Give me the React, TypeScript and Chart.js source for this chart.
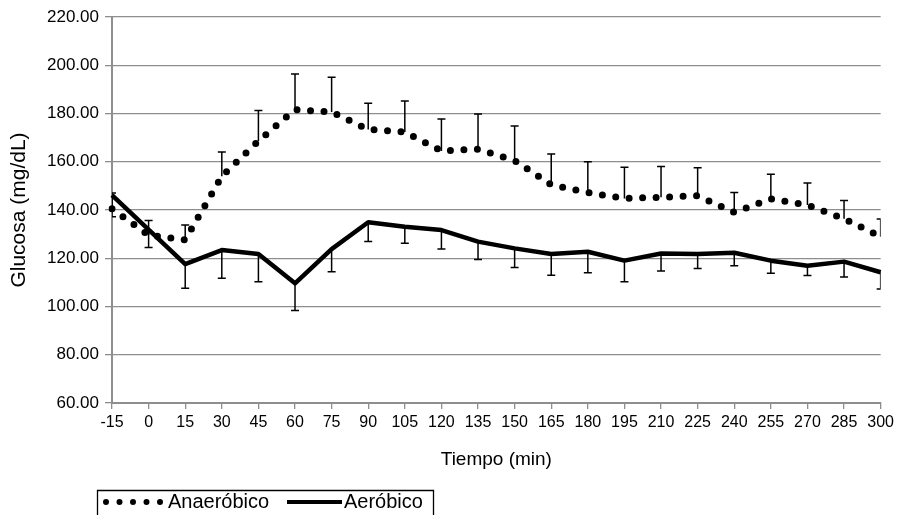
import { useEffect, useRef } from "react";
import { Chart, registerables } from "chart.js";

Chart.register(...registerables);

const timeLabels = ["-15", "0", "15", "30", "45", "60", "75", "90", "105", "120", "135", "150", "165", "180", "195", "210", "225", "240", "255", "270", "285", "300"];

const anaerobicValues = [140.5, 129.6, 127.6, 154.0, 168.6, 181.6, 180.6, 173.4, 172.3, 164.5, 165.2, 160.5, 150.5, 147.2, 144.8, 145.3, 145.9, 139.0, 144.6, 142.1, 136.4, 128.9];
const anaerobicErrors = [6.5, 6.0, 6.2, 10.0, 12.6, 14.8, 14.4, 10.8, 12.9, 13.2, 14.6, 14.3, 12.7, 12.8, 12.9, 12.7, 11.6, 8.3, 10.2, 9.1, 7.5, 7.4];

const aerobicValues = [146.2, 131.9, 117.6, 123.4, 121.8, 109.6, 123.8, 134.9, 133.1, 131.7, 126.9, 124.1, 121.8, 122.7, 119.0, 122.0, 121.8, 122.3, 119.0, 116.9, 118.6, 114.2];
const aerobicErrors = [9.0, 7.4, 10.0, 11.7, 11.5, 11.3, 9.4, 8.0, 6.9, 7.9, 7.4, 7.9, 8.8, 8.7, 8.7, 7.3, 6.0, 5.4, 5.2, 4.1, 6.4, 6.9];

const seriesNames = ["Anaeróbico", "Aeróbico"];
const yMin = 60;
const yMax = 220;
const yStep = 20;

const FONT = '"Liberation Sans", Arial, Helvetica, sans-serif';
const GRID = "#8e8e8e";
const DOT_DASH = [0, 13.5];

const errorBarPlugin = {
  id: "errorBars",
  afterDatasetsDraw(chart: any) {
    const ctx = chart.ctx;
    const yScale = chart.scales.y;
    const area = chart.chartArea;
    const specs = [
      { ds: 0, err: anaerobicErrors, dir: 1 },
      { ds: 1, err: aerobicErrors, dir: -1 },
    ];
    ctx.save();
    ctx.beginPath();
    ctx.rect(area.left, area.top - 2, area.right - area.left, area.bottom - area.top + 4);
    ctx.clip();
    ctx.strokeStyle = "#000";
    ctx.lineWidth = 1.5;
    ctx.setLineDash([]);
    ctx.lineCap = "butt";
    specs.forEach((s) => {
      const meta = chart.getDatasetMeta(s.ds);
      const vals = chart.data.datasets[s.ds].data as number[];
      meta.data.forEach((pt: any, i: number) => {
        const v = vals[i];
        const e = s.err[i];
        const y0 = yScale.getPixelForValue(v);
        const y1 = yScale.getPixelForValue(v + s.dir * e);
        const x = pt.x;
        ctx.beginPath();
        ctx.moveTo(x, y0);
        ctx.lineTo(x, y1);
        ctx.moveTo(x - 4, y1);
        ctx.lineTo(x + 4, y1);
        ctx.stroke();
      });
    });
    ctx.restore();
  },
};

const boxLegendPlugin = {
  id: "boxLegend",
  afterDraw(chart: any) {
    const ctx = chart.ctx;
    const ds = chart.data.datasets;
    const cy = 502;
    ctx.save();
    ctx.strokeStyle = "#000";
    ctx.lineWidth = 1.3;
    ctx.setLineDash([]);
    ctx.beginPath();
    ctx.moveTo(97.5, 520);
    ctx.lineTo(97.5, 490.5);
    ctx.lineTo(433.5, 490.5);
    ctx.lineTo(433.5, 520);
    ctx.stroke();

    // dotted sample
    ctx.lineWidth = 6;
    ctx.lineCap = "round";
    ctx.setLineDash([0, 13.5]);
    ctx.beginPath();
    ctx.moveTo(106, cy);
    ctx.lineTo(162, cy);
    ctx.stroke();

    // solid sample
    ctx.setLineDash([]);
    ctx.lineCap = "butt";
    ctx.lineWidth = 4;
    ctx.beginPath();
    ctx.moveTo(287, cy);
    ctx.lineTo(342, cy);
    ctx.stroke();

    ctx.fillStyle = "#000";
    ctx.font = `20px ${FONT}`;
    ctx.textAlign = "left";
    ctx.textBaseline = "middle";
    ctx.fillText(ds[0].label, 168, cy);
    ctx.fillText(ds[1].label, 344, cy);
    ctx.restore();
  },
};

export default function App() {
  const canvasRef = useRef<HTMLCanvasElement | null>(null);

  useEffect(() => {
    if (!canvasRef.current) return;
    const chart = new Chart(canvasRef.current, {
      type: "line",
      data: {
        labels: timeLabels,
        datasets: [
          {
            label: seriesNames[0],
            data: anaerobicValues,
            borderColor: "#000",
            borderWidth: 7,
            borderDash: DOT_DASH,
            borderCapStyle: "round",
            pointRadius: 0,
            tension: 0,
            fill: false,
          },
          {
            label: seriesNames[1],
            data: aerobicValues,
            borderColor: "#000",
            borderWidth: 4.5,
            borderJoinStyle: "round",
            pointRadius: 0,
            tension: 0,
            fill: false,
          },
        ],
      },
      options: {
        animation: false,
        responsive: true,
        maintainAspectRatio: false,
        layout: { padding: { top: 17, right: 14, bottom: 40, left: 0 } },
        plugins: {
          legend: { display: false },
          tooltip: { enabled: false },
        },
        scales: {
          x: {
            type: "category",
            offset: false,
            grid: {
              drawOnChartArea: false,
              drawTicks: true,
              tickLength: 6,
              color: GRID,
              lineWidth: 1.3,
            },
            border: { color: GRID, width: 2 },
            ticks: {
              color: "#000",
              font: { family: FONT, size: 16 },
              padding: 4,
              maxRotation: 0,
              minRotation: 0,
              autoSkip: false,
            },
            title: {
              display: true,
              text: "Tiempo (min)",
              color: "#000",
              font: { family: FONT, size: 19 },
              padding: { top: 0, bottom: 4 },
            },
            afterFit: (scale: any) => {
              scale.height = 72;
            },
          },
          y: {
            min: yMin,
            max: yMax,
            grid: { color: GRID, lineWidth: 1.3, tickLength: 7 },
            border: { color: GRID, width: 2 },
            ticks: {
              stepSize: yStep,
              color: "#000",
              font: { family: FONT, size: 17 },
              padding: 6,
              callback: (v: any) => Number(v).toFixed(2),
            },
            title: {
              display: true,
              text: "Glucosa (mg/dL)",
              color: "#000",
              font: { family: FONT, size: 21 },
              padding: { top: 7, bottom: 0 },
            },
            afterFit: (scale: any) => {
              scale.width = 112;
            },
          },
        },
      },
      plugins: [errorBarPlugin, boxLegendPlugin],
    } as any);
    return () => chart.destroy();
  }, []);

  return (
    <div style={{ position: "fixed", left: 0, top: 0, width: 898, height: 515, background: "#fff" }}>
      <canvas ref={canvasRef} />
    </div>
  );
}
